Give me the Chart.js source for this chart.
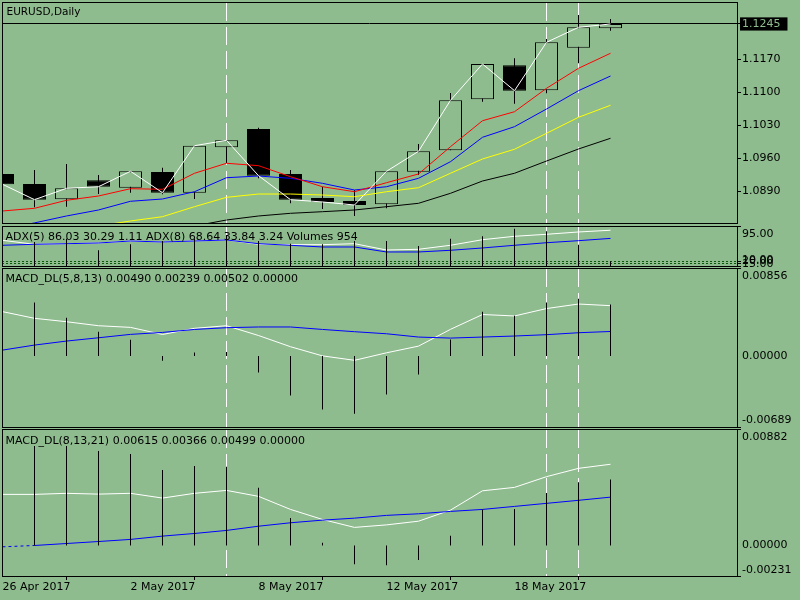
<!DOCTYPE html>
<html><head><meta charset="utf-8">
<script src="https://cdn.jsdelivr.net/npm/chart.js"></script>
<style>
html,body{margin:0;padding:0;background:#8FBC8F;}
#wrap{position:relative;width:800px;height:600px;overflow:hidden;background:#8FBC8F}
canvas{position:absolute;left:0}
.lbl{position:absolute;font-family:"DejaVu Sans";font-size:11px;line-height:13px;color:#000;white-space:nowrap}
</style></head>
<body><div id="wrap">
<canvas id="cPrice" width="800" height="226" style="top:0px"></canvas>
<canvas id="cAdx" width="800" height="48" style="top:224px"></canvas>
<canvas id="cMacd1" width="800" height="162" style="top:267px"></canvas>
<canvas id="cMacd2" width="800" height="172" style="top:428px"></canvas>
<div class="lbl" style="left:6.5px;top:5px;font-size:10.5px">EURUSD,Daily</div>
<div class="lbl" style="left:5.5px;top:230px">ADX(5) 86.03 30.29 1.11 ADX(8) 68.64 33.84 3.24 Volumes 954</div>
<div class="lbl" style="left:5.5px;top:272px">MACD_DL(5,8,13) 0.00490 0.00239 0.00502 0.00000</div>
<div class="lbl" style="left:5.5px;top:433.5px">MACD_DL(8,13,21) 0.00615 0.00366 0.00499 0.00000</div>
</div>
<script>
// ---------- data ----------
const dateLabels = ['26 Apr 2017', '2 May 2017', '8 May 2017', '12 May 2017', '18 May 2017'];
const dateTickIdx = [0, 4, 8, 12, 16];
const markIdx = [7, 17, 18];

const opens  = [1.09268,1.09056,1.08731,1.09134,1.08977,1.09310,1.08871,1.09834,1.10222,1.09268,1.08759,1.08695,1.08625,1.09316,1.09770,1.10852,1.11573,1.11043,1.11947,1.12358];
const highs  = [1.09268,1.09352,1.09480,1.09246,1.09325,1.09401,1.09868,1.09982,1.10250,1.09352,1.08998,1.08928,1.09325,1.09904,1.10986,1.11601,1.11722,1.12131,1.12640,1.12556];
const lows   = [1.09049,1.08561,1.08574,1.08843,1.08871,1.08837,1.08737,1.09501,1.09176,1.08646,1.08525,1.08377,1.08540,1.09246,1.09770,1.10801,1.10759,1.10979,1.11616,1.12307];
const closes = [1.09049,1.08723,1.08964,1.08998,1.09325,1.08871,1.09868,1.09982,1.09232,1.08723,1.08674,1.08610,1.09325,1.09749,1.10831,1.11601,1.11035,1.12061,1.12379,1.12450];

const maRed    = [1.08483,1.08540,1.08710,1.08801,1.08956,1.08943,1.09283,1.09495,1.09444,1.09210,1.08998,1.08892,1.09083,1.09268,1.09847,1.10398,1.10589,1.11085,1.11510,1.11828];
const maBlue   = [1.08101,1.08230,1.08377,1.08504,1.08689,1.08737,1.08892,1.09189,1.09225,1.09176,1.09070,1.08928,1.08998,1.09176,1.09529,1.10046,1.10271,1.10646,1.11035,1.11346];
const maYellow = [null,null,null,1.08165,1.08271,1.08362,1.08574,1.08773,1.08843,1.08843,1.08822,1.08786,1.08892,1.08977,1.09283,1.09586,1.09792,1.10131,1.10470,1.10725];
const maBlack  = [null,null,null,null,null,null,1.08165,1.08292,1.08377,1.08434,1.08468,1.08504,1.08574,1.08646,1.08858,1.09119,1.09283,1.09543,1.09798,1.10025];

const bidPrice = 1.1245;
const priceTicks = [1.0890, 1.0960, 1.1030, 1.1100, 1.1170];

const volumes = [null,4870,5540,3190,4400,5075,5540,6290,5075,4530,4400,5075,5075,4060,5540,6030,7570,7040,4320,954];
const adx5 = [64.6,56.1,57.4,58.9,63.1,61.0,63.1,65.3,56.1,55.3,55.3,57.4,44.0,45.5,54.0,65.9,73.1,77.4,82.3,86.03];
const adx8 = [54.0,56.1,57.4,58.9,63.1,61.0,63.1,65.3,57.4,54.0,50.4,50.4,39.8,39.8,43.4,48.3,54.0,59.5,63.8,68.64];
const adxLevels = [20, 15];

const macd1Main   = [0.00432,0.00367,0.00334,0.00295,0.00279,0.00210,0.00270,0.00295,0.00200,0.00091,0.00002,-0.00041,0.00032,0.00097,0.00260,0.00404,0.00390,0.00462,0.00506,0.00490];
const macd1Signal = [0.00058,0.00107,0.00146,0.00178,0.00211,0.00230,0.00259,0.00276,0.00283,0.00283,0.00259,0.00237,0.00217,0.00185,0.00175,0.00185,0.00195,0.00208,0.00227,0.00239];
const macd1Hist   = [null,0.00520,0.00373,0.00237,0.00159,-0.00045,0.00035,0.00040,-0.00160,-0.00384,-0.00520,-0.00560,-0.00374,-0.00180,0.00162,0.00432,0.00393,0.00520,0.00556,0.00502];

const macd2Main   = [0.00387,0.00387,0.00395,0.00389,0.00395,0.00359,0.00395,0.00417,0.00372,0.00273,0.00197,0.00137,0.00156,0.00184,0.00268,0.00414,0.00440,0.00521,0.00584,0.00615];
const macd2Signal = [-0.00010,0.00000,0.00015,0.00030,0.00046,0.00071,0.00091,0.00114,0.00146,0.00172,0.00192,0.00207,0.00228,0.00240,0.00258,0.00273,0.00296,0.00319,0.00342,0.00366];
const macd2Hist   = [null,0.00754,0.00754,0.00716,0.00693,0.00572,0.00602,0.00597,0.00437,0.00209,0.00020,-0.00142,-0.00150,-0.00109,0.00073,0.00273,0.00276,0.00397,0.00478,0.00499];

// axis ranges
const priceRange = [1.082282, 1.129161];
const adxRange = [10, 95];
const volMax = 8120;
const macd1Range = [-0.00689, 0.00856];
const macd2Range = [-0.00231, 0.00882];

// ---------- rendering ----------
const BG = '#8FBC8F';
const FONT = {family: 'DejaVu Sans', size: 11};
const AXIS_W = 63;
Chart.defaults.font.family = 'DejaVu Sans';
Chart.defaults.font.size = 11;
Chart.defaults.color = '#000';

const xRange = [-1/64, -1/64 + 735/32];
const pts = arr => arr.map((v, i) => ({x: i, y: v}));

const paneDeco = {
  id: 'paneDeco',
  afterLayout(chart) {
    // secondary label axes share the main axis strip on the right
    const r = chart.chartArea.right;
    ['yB', 'yC'].forEach(id => {
      const s = chart.scales[id];
      if (s) { s.left = r; s.right = r + AXIS_W; s.width = AXIS_W; }
    });
  },
  beforeDatasetsDraw(chart) {
    const {ctx, chartArea: a, scales: {x}} = chart;
    ctx.save();
    ctx.strokeStyle = '#FFFFFF'; ctx.lineWidth = 1; ctx.setLineDash([18, 6]);
    markIdx.forEach(i => {
      const px = x.getPixelForValue(i);
      ctx.beginPath(); ctx.moveTo(px, a.top + 1); ctx.lineTo(px, a.bottom); ctx.stroke();
    });
    ctx.restore();
  },
  afterDatasetsDraw(chart) {
    const {ctx, chartArea: a} = chart;
    ctx.save();
    ctx.strokeStyle = '#000'; ctx.lineWidth = 1; ctx.setLineDash([]);
    ctx.strokeRect(a.left + 0.5, a.top + 0.5, a.right - a.left, a.bottom - a.top);
    ctx.restore();
  }
};

function xAxis(show) {
  const ax = {type: 'linear', min: xRange[0], max: xRange[1], bounds: 'data', offset: false, display: show,
    grid: {drawOnChartArea: false, color: '#000', tickLength: 4, lineWidth: 1}, border: {display: false}};
  if (show) {
    Object.assign(ax, {
      position: 'bottom',
      afterBuildTicks: s => { s.ticks = dateTickIdx.map(v => ({value: v})); },
      afterFit: s => { s.height = 24; s.paddingLeft = 0; s.paddingRight = 0; },
      ticks: {autoSkip: false, maxRotation: 0, minRotation: 0, align: 'start', padding: 1, font: FONT, color: '#000',
        callback: v => dateLabels[dateTickIdx.indexOf(v)]}
    });
  }
  return ax;
}

function rightAxis(range, vals, o) {
  return {
    type: 'linear', position: 'right', min: range[0], max: range[1], bounds: 'data', weight: o.weight || 0,
    afterBuildTicks: s => { s.ticks = vals.map(v => ({value: v})); },
    afterFit: s => { s.width = o.width || 0; s.paddingTop = 0; s.paddingBottom = 0; },
    grid: {drawOnChartArea: !!o.gridColor, color: o.gridColor || '#000', tickColor: o.tickColor || '#000', tickLength: 4, lineWidth: 1},
    border: {display: false, dash: o.dash || []},
    ticks: {autoSkip: false, padding: 1, align: o.align || 'center', labelOffset: o.offset || 0, font: FONT, color: '#000',
      callback: v => Number(v).toFixed(o.digits)}
  };
}

const line = (data, color, yAxisID, extra) => Object.assign({type: 'line', data: pts(data), borderColor: color,
  borderWidth: 1, pointRadius: 0, tension: 0, fill: false, yAxisID: yAxisID || 'y'}, extra || {});
const thinBars = (data, yAxisID) => ({type: 'bar', data: pts(data), backgroundColor: '#000', borderWidth: 0,
  grouped: false, maxBarThickness: 1, inflateAmount: 0, clip: 0, yAxisID: yAxisID || 'y'});

function makeChart(id, pad, datasets, scales) {
  return new Chart(document.getElementById(id), {
    type: 'line',
    data: {datasets},
    options: {
      responsive: false, animation: false, devicePixelRatio: 1, events: [],
      layout: {padding: {left: 2, right: 0, top: pad[0], bottom: pad[1]}},
      plugins: {legend: {display: false}, tooltip: {enabled: false}},
      scales
    },
    plugins: [paneDeco]
  });
}

// price pane
const isBull = i => closes[i] >= opens[i];
makeChart('cPrice', [2, 3], [
  line(closes, '#FFFFFF'),
  line(maRed, '#FF0000'),
  line(maBlue, '#0000FF'),
  line(maYellow, '#FFFF00'),
  line(maBlack, '#000000'),
  {type: 'bar', data: opens.map((o, i) => ({x: i, y: [o, closes[i]]})),
    backgroundColor: c => isBull(c.dataIndex) ? BG : '#000', borderColor: '#000', borderWidth: 1,
    borderSkipped: false, grouped: false, maxBarThickness: 23, inflateAmount: 0, clip: 0},
  {type: 'bar', data: lows.map((l, i) => ({x: i, y: [l, highs[i]]})),
    backgroundColor: '#000', borderWidth: 0, grouped: false, maxBarThickness: 1, inflateAmount: 0, clip: 0}
], {
  x: xAxis(false),
  y: {
    type: 'linear', position: 'right', min: priceRange[0], max: priceRange[1], bounds: 'data',
    afterBuildTicks: s => { s.ticks = priceTicks.concat([bidPrice]).map(v => ({value: v})); },
    afterFit: s => { s.width = AXIS_W; s.paddingTop = 0; s.paddingBottom = 0; },
    grid: {drawOnChartArea: true, color: c => (c.tick && c.tick.value === bidPrice) ? '#000' : 'rgba(0,0,0,0)',
      tickColor: '#000', tickLength: 4, lineWidth: 1},
    border: {display: false},
    ticks: {autoSkip: false, padding: 1, font: FONT, callback: v => Number(v).toFixed(4),
      color: c => (c.tick && c.tick.value === bidPrice) ? BG : '#000',
      showLabelBackdrop: c => !!(c.tick && c.tick.value === bidPrice),
      backdropColor: '#000', backdropPadding: {top: 0, bottom: 0, left: 2, right: 7}}
  }
});

// ADX + volumes pane
makeChart('cAdx', [2, 6], [
  thinBars(volumes, 'yVol'),
  line(adx8, '#0000FF'),
  line(adx5, '#FFFFFF')
], {
  x: xAxis(false),
  y: rightAxis(adxRange, [adxRange[1]], {width: AXIS_W, weight: 1, align: 'start', offset: 3, digits: 2}),
  yB: rightAxis(adxRange, [adxRange[0]], {align: 'end', digits: 2}),
  yC: rightAxis(adxRange, adxLevels, {digits: 2, gridColor: '#0A5A0A', dash: [2, 2]}),
  yVol: {type: 'linear', position: 'right', display: false, min: 0, max: volMax, bounds: 'data'}
});

// MACD (5,8,13)
makeChart('cMacd1', [1, 2], [
  thinBars(macd1Hist),
  line(macd1Signal, '#0000FF'),
  line(macd1Main, '#FFFFFF')
], {
  x: xAxis(false),
  y: rightAxis(macd1Range, [macd1Range[1]], {width: AXIS_W, weight: 1, align: 'start', offset: 3, digits: 5}),
  yB: rightAxis(macd1Range, [macd1Range[0]], {align: 'end', offset: -1.5, digits: 5}),
  yC: rightAxis(macd1Range, [0], {digits: 5, tickColor: 'rgba(0,0,0,0)'})
});

// MACD (8,13,21)
makeChart('cMacd2', [1, 0], [
  thinBars(macd2Hist),
  line(macd2Signal, '#0000FF', 'y', {segment: {borderDash: c => c.p0DataIndex === 0 ? [3, 3] : undefined}}),
  line(macd2Main, '#FFFFFF')
], {
  x: xAxis(true),
  y: rightAxis(macd2Range, [macd2Range[1]], {width: AXIS_W, weight: 1, align: 'start', offset: 3, digits: 5}),
  yB: rightAxis(macd2Range, [macd2Range[0]], {align: 'end', digits: 5}),
  yC: rightAxis(macd2Range, [0], {digits: 5, tickColor: 'rgba(0,0,0,0)'})
});
</script>
</body></html>
